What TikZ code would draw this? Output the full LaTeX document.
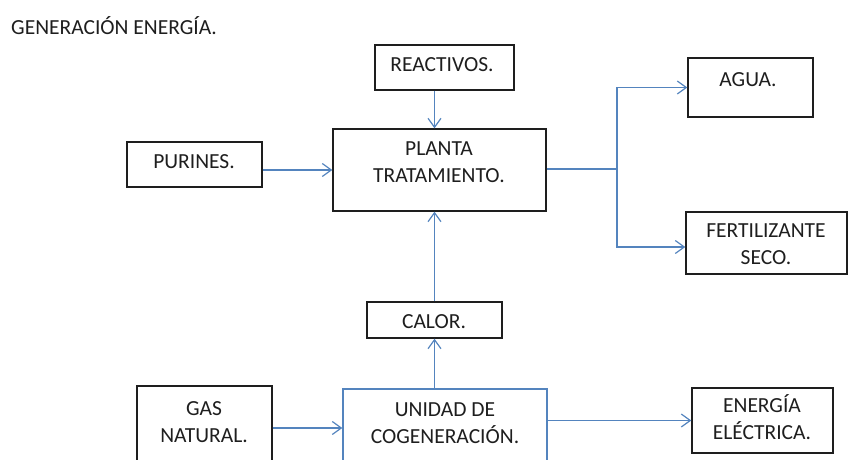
\documentclass[tikz,border=0pt]{standalone}
\usepackage{fontspec}
\setmainfont{Carlito}
\usepackage{xcolor}
\usepackage{tikz}
\usetikzlibrary{arrows.meta, positioning}
\usetikzlibrary{calc}

\definecolor{flowblue}{RGB}{84,132,190}
\definecolor{boxgray}{RGB}{30,30,30}

\begin{document}
\begin{tikzpicture}[x=1pt, y=-1pt,
    box/.style={draw=boxgray, line width=1.4pt, inner sep=0pt},
    txt/.style={inner sep=0pt, align=center, text=boxgray, font=\fontsize{21.5}{27}\selectfont},
    flow/.style={draw=flowblue, line width=1.2pt, -{Straight Barb[length=9pt, width=13pt]}}]
    \useasboundingbox (0,0) rectangle (848,460);
    \clip (0,0) rectangle (848,460);

    \node[txt, anchor=west] (title) at (11,26) {GENERACIÓN ENERGÍA.};

    % boxes
    \node[box, minimum width=139, minimum height=45] (reactivos) at (444.5,67.5) {};
    \node[box, minimum width=213, minimum height=82] (planta) at (439.5,170) {};
    \node[box, minimum width=135, minimum height=45] (purines) at (194.5,164.5) {};
    \node[box, minimum width=125, minimum height=59] (agua) at (750.5,87.5) {};
    \node[box, minimum width=161, minimum height=62] (fertil) at (766.5,243) {};
    \node[box, minimum width=135, minimum height=36] (calor) at (434.5,320) {};
    \node[box, minimum width=135, minimum height=94] (gas) at (204.5,433) {};
    \node[box, draw=flowblue, minimum width=204, minimum height=91] (cogen) at (445,434.5) {};
    \node[box, minimum width=141, minimum height=65] (energia) at (762.5,420.5) {};

    % texts
    \node[txt] (reactivostxt) at (442,65) {REACTIVOS.};
    \node[txt] (plantatxt) at (439,162) {PLANTA\\TRATAMIENTO.};
    \node[txt] (purinestxt) at (194,162) {PURINES.};
    \node[txt] (aguatxt) at (748,80) {AGUA.};
    \node[txt] (fertiltxt) at (766,244.5) {FERTILIZANTE\\SECO.};
    \node[txt] (calortxt) at (434,322) {CALOR.};
    \node[txt] (gastxt) at (204,422) {GAS\\NATURAL.};
    \node[txt] (cogentxt) at (445,423) {UNIDAD DE\\COGENERACIÓN.};
    \node[txt] (energiatxt) at (762,417) {ENERGÍA\\ELÉCTRICA.};

    % flows
    \draw[flow] (reactivos.south -| calor.north) -- (planta.north -| calor.north);
    \draw[flow] (purines.east |- planta.west) -- (planta.west);
    \coordinate (split) at (617,169);
    \draw[flow, -] (planta.east |- split) -- (split);
    \draw[flow] (split) |- (agua.west);
    \draw[flow] (split) |- ([yshift=-4pt]fertil.west);
    \draw[flow] (calor.north) -- (planta.south -| calor.north);
    \draw[flow] (cogen.north -| calor.south) -- (calor.south);
    \draw[flow] ([yshift=5pt]gas.east) -- ([yshift=5pt]gas.east -| cogen.west);
    \draw[flow] (cogen.east |- energia.west) -- (energia.west);
\end{tikzpicture}
\end{document}
